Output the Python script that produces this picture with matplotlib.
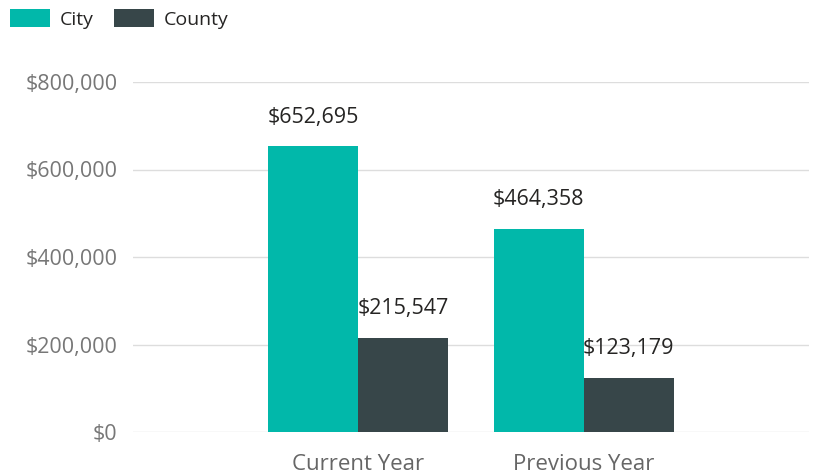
import matplotlib
matplotlib.use("Agg")
import matplotlib.pyplot as plt
import numpy as np
from matplotlib.ticker import FuncFormatter

plt.rcParams['font.family'] = ['Open Sans', 'DejaVu Sans']

categories = ["Current Year", "Previous Year"]
series_names = ["City", "County"]
city = [652695, 464358]
county = [215547, 123179]
colors = ["#01B8AA", "#374649"]

W, H = 818, 476
fig = plt.figure(figsize=(W / 100, H / 100), dpi=100)
ax = fig.add_axes([133 / W, 1 - 432 / H, (809 - 133) / W, (432 - 82) / H])

x = np.arange(len(categories))
bw = 0.4
vals = [city, county]
for i, (name, v, c) in enumerate(zip(series_names, vals, colors)):
    pos = x + (i - 0.5) * bw
    bars = ax.bar(pos, v, width=bw, color=c, label=name, zorder=3)
    for b, val in zip(bars, v):
        ax.annotate(f"${val:,.0f}", (b.get_x() + b.get_width() / 2, val),
                    xytext=(0, 21), textcoords="offset points",
                    ha="center", va="center", fontsize=15.5, color="#252423")

ax.set_xlim(-1, 2)
ax.set_ylim(0, 800000)
ax.set_yticks([0, 200000, 400000, 600000, 800000])
ax.yaxis.set_major_formatter(FuncFormatter(lambda v, p: f"${v:,.0f}"))
ax.set_xticks(x)
ax.set_xticklabels(categories)
ax.tick_params(axis="y", length=0, pad=11, labelsize=15.5, labelcolor="#777777")
ax.tick_params(axis="x", length=0, pad=16, labelsize=16, labelcolor="#666666")
ax.grid(axis="y", color="#dddddd", linewidth=1, zorder=0)
for s in ax.spines.values():
    s.set_visible(False)

leg = fig.legend(loc="upper left", bbox_to_anchor=(6 / W, 1 - 5 / H), ncol=2,
                 frameon=False, fontsize=14, handlelength=2.05, handleheight=1.05,
                 handletextpad=0.5, columnspacing=1.05, borderaxespad=0, borderpad=0.2)
for t in leg.get_texts():
    t.set_color("#252423")

fig.savefig("out.png", dpi=100)
